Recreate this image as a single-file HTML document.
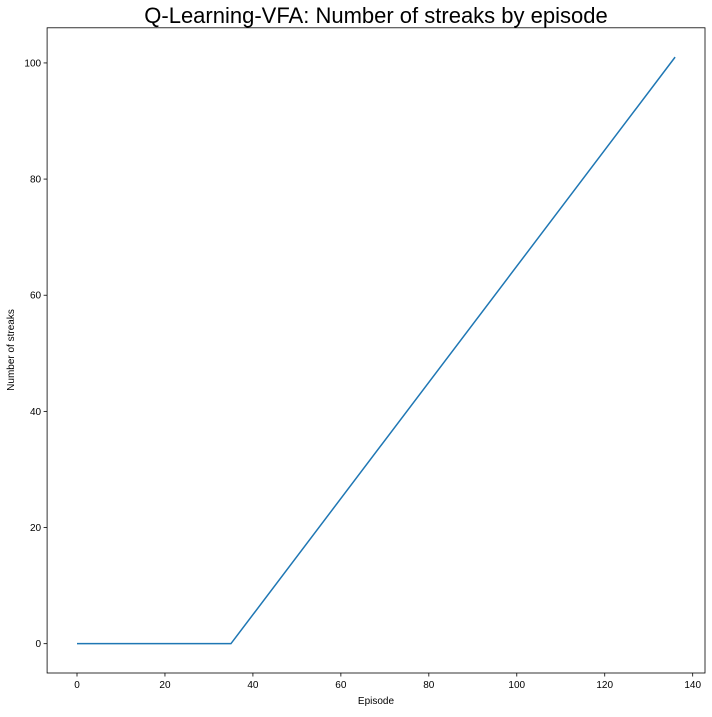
<!DOCTYPE html>
<html><head><meta charset="utf-8"><style>
html,body{margin:0;padding:0;background:#fff;}
svg text{font-family:"Liberation Sans","DejaVu Sans",sans-serif;}
</style></head><body>
<svg id="chart" width="712" height="712" xmlns="http://www.w3.org/2000/svg">
<rect width="712" height="712" fill="#fff"/>
<text x="376" y="23" font-size="22" text-anchor="middle" fill="#000">Q-Learning-VFA: Number of streaks by episode</text>
<g id="plot"></g>
<text x="376" y="704" font-size="10" text-anchor="middle">Episode</text>
<text x="0" y="0" font-size="10" text-anchor="middle" transform="translate(14,350) rotate(-90)">Number of streaks</text>
</svg>
<script>
const episodes = [0, 35, 136];
const streaks = [0, 0, 101];
const xTicks = [0, 20, 40, 60, 80, 100, 120, 140];
const yTicks = [0, 20, 40, 60, 80, 100];

const L=47.1,R=705,T=27.8,B=673;
const xMin=-6.8,xMax=142.8,yMin=-5.05,yMax=106.05;
const sx=v=>L+(v-xMin)/(xMax-xMin)*(R-L);
const sy=v=>B-(v-yMin)/(yMax-yMin)*(B-T);
const NS="http://www.w3.org/2000/svg";
const g=document.getElementById('plot');
function mk(t,a){const e=document.createElementNS(NS,t);for(const k in a)e.setAttribute(k,a[k]);g.appendChild(e);return e;}
xTicks.forEach(v=>{
  const l=mk('line',{x1:sx(v),x2:sx(v),y1:B,y2:B+3.5,stroke:'#000','stroke-width':0.8});
  
  
  const t=mk('text',{x:sx(v),y:B+15,'font-size':10,'text-anchor':'middle'});
  t.textContent=v;
  
  
});
yTicks.forEach(v=>{
  const l=mk('line',{x1:L-3.5,x2:L,y1:sy(v),y2:sy(v),stroke:'#000','stroke-width':0.8});
  
  
  const t=mk('text',{x:L-6,y:sy(v)+3.5,'font-size':10,'text-anchor':'end'});
  t.textContent=v;
  
  
});
const pts=episodes.map((e,i)=>sx(e)+','+sy(streaks[i])).join(' ');
const line=mk('polyline',{points:pts,fill:'none',stroke:'#1f77b4','stroke-width':1.5});


const frame=mk('rect',{x:L,y:T,width:R-L,height:B-T,fill:'none',stroke:'#000','stroke-width':0.8});


</script>
</body></html>
